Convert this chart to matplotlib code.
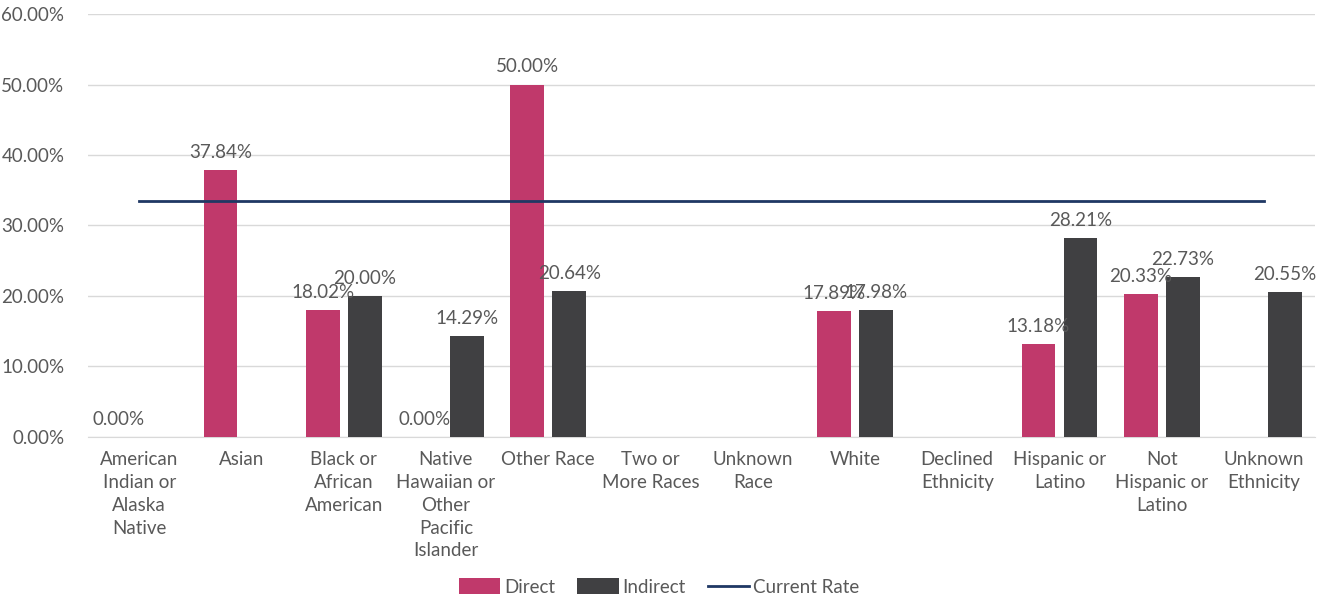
import numpy as np
import matplotlib.pyplot as plt

categories = ["American\nIndian or\nAlaska\nNative", "Asian", "Black or\nAfrican\nAmerican",
              "Native\nHawaiian or\nOther\nPacific\nIslander", "Other Race", "Two or\nMore Races",
              "Unknown\nRace", "White", "Declined\nEthnicity", "Hispanic or\nLatino",
              "Not\nHispanic or\nLatino", "Unknown\nEthnicity"]
direct = [0.0, 37.84, 18.02, 0.0, 50.00, np.nan, np.nan, 17.89, np.nan, 13.18, 20.33, np.nan]
indirect = [np.nan, np.nan, 20.00, 14.29, 20.64, np.nan, np.nan, 17.98, np.nan, 28.21, 22.73, 20.55]
current_rate = 33.5
yticks = [0, 10, 20, 30, 40, 50, 60]

plt.rcParams['font.family'] = ['Lato', 'DejaVu Sans']
text_color = '#595959'
c_direct = '#C0396B'
c_indirect = '#404042'
c_line = '#1F3864'
fs = 13.5

fig = plt.figure(figsize=(13.18, 5.96), dpi=100)
ax = fig.add_axes([0.0668, 0.2668, 0.931, 0.7097])

x = np.arange(len(categories))
w = 0.33
off = 0.205
b1 = ax.bar(x - off, direct, w, color=c_direct, label='Direct', zorder=3)
b2 = ax.bar(x + off, indirect, w, color=c_indirect, label='Indirect', zorder=3)
ax.plot([x[0], x[-1]], [current_rate, current_rate], color=c_line, lw=2, label='Current Rate', zorder=4)

for xs, vals in ((x - off, direct), (x + off, indirect)):
    for xi, v in zip(xs, vals):
        if np.isnan(v):
            continue
        ax.text(xi, v + 1.3, f"{v:.2f}%", ha='center', va='bottom', fontsize=fs, color=text_color, zorder=5)

ax.set_xlim(-0.5, len(categories) - 0.5)
ax.set_ylim(0, 60)
ax.set_yticks(yticks)
ax.set_yticklabels([f"{t:.2f}%" for t in yticks], fontsize=fs, color=text_color)
ax.set_xticks(x)
ax.set_xticklabels(categories, fontsize=fs, color=text_color, linespacing=1.42, va='top')
ax.tick_params(length=0, pad=10)
ax.tick_params(axis='y', pad=17)
ax.grid(axis='y', color='#D9D9D9', lw=1, zorder=0)
for s in ['top', 'right', 'left']:
    ax.spines[s].set_visible(False)
ax.spines['bottom'].set_color('#D9D9D9')

fig.legend(handles=[b1, b2, ax.lines[0]], labels=['Direct', 'Indirect', 'Current Rate'],
           loc='center', bbox_to_anchor=(0.5, 0.015), ncol=3, frameon=False,
           fontsize=fs, labelcolor=text_color, handlelength=2.2, handletextpad=0.2,
           columnspacing=1.2, handleheight=0.9)

fig.savefig('out.png', dpi=100)
